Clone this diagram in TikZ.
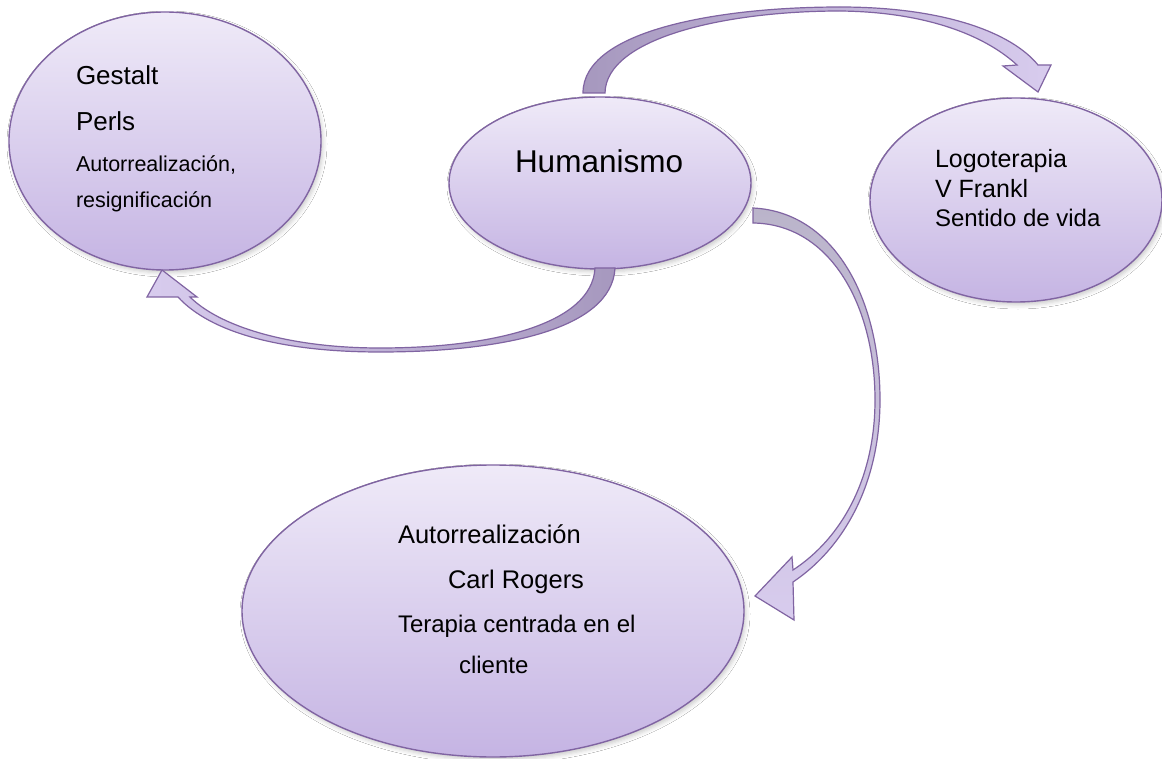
\documentclass[tikz,border=0pt]{standalone}
\usepackage{fontspec}
\setmainfont{Liberation Sans}
\usetikzlibrary{shapes.geometric,shadows.blur,calc}

\definecolor{rim}{HTML}{8064A2}
\definecolor{fillTop}{RGB}{239,234,248}
\definecolor{fillBot}{RGB}{197,180,227}
\definecolor{backFace}{RGB}{166,152,190}
\definecolor{greyFace}{RGB}{186,180,202}
\definecolor{frontFace}{RGB}{216,204,238}

\tikzset{
  bubble/.style={ellipse, draw=rim, line width=1.4pt,
    top color=fillTop, bottom color=fillBot, inner sep=0pt, outer sep=0pt,
    blur shadow={shadow xshift=2pt, shadow yshift=-3pt,
                 shadow blur radius=4pt, shadow opacity=20}},
  ribbon/.style={draw=rim, line width=1.2pt, line join=miter},
  txt/.style={anchor=base west, inner sep=0pt, outer sep=0pt, text=black},
}
\newcommand{\fs}[1]{\fontsize{#1}{#1}\selectfont}

\begin{document}
\begin{tikzpicture}[x=1pt,y=-1pt]
  \fill[white] (0,0) rectangle (1162,759);
  \useasboundingbox (0,0) rectangle (1162,759);

  % the four bubbles
  \node[bubble, minimum width=312pt, minimum height=258pt] (gestalt) at (165,141) {};
  \node[bubble, minimum width=302pt, minimum height=172pt] (hum) at (600,183) {};
  \node[bubble, minimum width=292pt, minimum height=204pt] (logo) at (1016,200) {};
  \node[bubble, minimum width=502pt, minimum height=292pt] (rogers) at (493,611) {};

  % bubble texts
  \node[txt, font=\fs{26}] (g1) at (76,85) {Gestalt};
  \node[txt, font=\fs{26}] (g2) at (76,131) {Perls};
  \node[txt, font=\fs{21.5}] (g3) at (76,172) {Autorrealización,};
  \node[txt, font=\fs{21.5}] (g4) at (76,208) {resignificación};

  \node[txt, font=\fs{31.5}] (h1) at (515,173) {Humanismo};

  \node[txt, font=\fs{25}] (l1) at (935,168) {Logoterapia};
  \node[txt, font=\fs{25}] (l2) at (935,198) {V Frankl};
  \node[txt, font=\fs{24}] (l3) at (935,227) {Sentido de vida};

  \node[txt, font=\fs{25.5}] (r1) at (398,543) {Autorrealización};
  \node[txt, font=\fs{25.5}] (r2) at (448,588) {Carl Rogers};
  \node[txt, font=\fs{24}] (r3) at (398,632) {Terapia centrada en el};
  \node[txt, font=\fs{24}] (r4) at (459,673) {cliente};

  % ends of the curved arrows, tied to the bubbles
  \coordinate (ta1) at ($(hum.north)+(-17,-4)$);
  \coordinate (ta2) at ($(hum.north)+(5,-4)$);
  \coordinate (tipT) at ($(logo.north)+(22,-6)$);

  \coordinate (la1) at ($(hum.south)+(15,-1)$);
  \coordinate (la2) at ($(hum.south)+(-5,-1)$);
  \coordinate (tipL) at ($(gestalt.south)+(-3,0)$);

  \coordinate (ra1) at ($(hum.east)+(2,25)$);
  \coordinate (ra2) at ($(hum.east)+(2,40)$);
  \coordinate (tipR) at ($(rogers.east)+(11,-15)$);

  % Humanismo -> Logoterapia
  \draw[ribbon, left color=backFace, right color=frontFace]
    (ta1) .. controls (583,30) and (720,7) .. (840,7)
          .. controls (945,7) and (1012,33) .. (1038,65)
    -- (1051,65) -- (tipT) -- (1003,66) -- (1017,65)
          .. controls (990,40) and (935,12) .. (840,11)
          .. controls (725,11) and (606,38) .. (ta2) -- cycle;

  % Humanismo -> Gestalt
  \draw[ribbon, right color=backFace, left color=frontFace]
    (la1) .. controls (612,330) and (500,352) .. (380,352)
          .. controls (280,352) and (210,332) .. (178,297)
    -- (147,297) -- (tipL) -- (197,297) -- (190,297)
          .. controls (218,325) and (285,348) .. (380,348)
          .. controls (490,348) and (592,325) .. (la2) -- cycle;

  % Humanismo -> Carl Rogers
  \draw[ribbon, top color=greyFace, bottom color=frontFace]
    (ra1) .. controls (835,212) and (880,300) .. (880,400)
          .. controls (880,478) and (848,545) .. (793,582)
    -- (794,620) -- (tipR) -- (792,557) -- (793,570)
          .. controls (842,538) and (875,478) .. (875,400)
          .. controls (875,305) and (830,224) .. (ra2) -- cycle;
\end{tikzpicture}
\end{document}
